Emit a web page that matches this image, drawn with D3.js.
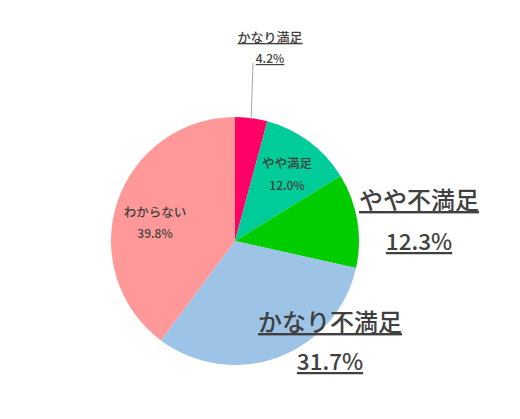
<!DOCTYPE html>
<html>
<head>
<meta charset="utf-8">
<script src="https://cdn.jsdelivr.net/npm/d3@7"></script>
<style>
  body { margin: 0; background: #fff; }
  text { font-family: "Noto Sans CJK JP", "Noto Sans", sans-serif; fill: #404040; }
</style>
</head>
<body>
<div id="chart"></div>
<script>
// chart data
const categories = ["かなり満足", "やや満足", "やや不満足", "かなり不満足", "わからない"];
const values = [4.2, 12.0, 12.3, 31.7, 39.8];
const valueLabels = ["4.2%", "12.0%", "12.3%", "31.7%", "39.8%"];
const colors = ["#FF0066", "#00CC99", "#00CC00", "#9DC3E6", "#FF9999"];

const width = 520, height = 419;
const cx = 235, cy = 241, radius = 124;

// label placement per slice
const labelPos = [
    {x: 270, y: 42, gap: 21, size: 13, numSize: 12, underline: true},
    {x: 287, y: 168, gap: 22, size: 12.5, numSize: 12, underline: false},
    {x: 419, y: 209, gap: 41, size: 24, numSize: 22.5, underline: true},
    {x: 330, y: 331, gap: 39, size: 24, numSize: 22.5, underline: true},
    {x: 155, y: 217, gap: 21, size: 12.5, numSize: 12, underline: false}
];

const svg = d3.select("#chart").append("svg")
    .attr("width", width)
    .attr("height", height);

const pie = d3.pie().sort(null).value(d => d);
const arc = d3.arc().innerRadius(0).outerRadius(radius);
const arcs = pie(values);

const g = svg.append("g").attr("transform", `translate(${cx},${cy})`);

g.selectAll("path")
    .data(arcs)
    .join("path")
    .attr("d", arc)
    .attr("fill", (d, i) => colors[i]);

// leader line for the small slice
const a0 = arcs[0];
const mid = (a0.startAngle + a0.endAngle) / 2;
svg.append("line")
    .attr("x1", cx + Math.sin(mid) * radius * 0.99)
    .attr("y1", cy - Math.cos(mid) * radius * 0.99)
    .attr("x2", labelPos[0].x - 17)
    .attr("y2", labelPos[0].y + 21)
    .attr("stroke", "#a6a6a6")
    .attr("stroke-width", 1);

categories.forEach((c, i) => {
    const p = labelPos[i];
    [c, valueLabels[i]].forEach((t, k) => {
        svg.append("text")
            .attr("x", p.x)
            .attr("y", p.y + k * p.gap)
            .attr("text-anchor", "middle")
            .attr("font-size", k === 0 ? p.size : p.numSize)
            .attr("font-weight", 500)
            .attr("text-decoration", p.underline ? "underline" : null)
            .text(t);
    });
});
</script>
</body>
</html>
